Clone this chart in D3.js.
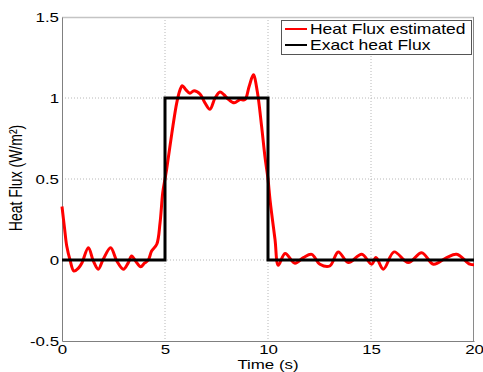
<!DOCTYPE html>
<html>
<head>
<meta charset="utf-8">
<script src="https://cdn.jsdelivr.net/npm/d3@7"></script>
<style>
	body { margin: 0; background: #fff; }
	svg { display: block; font-family: "Liberation Sans", Arial, sans-serif; }
</style>
</head>
<body>
<svg id="chart" width="483" height="372"></svg>
<script>
// estimated heat flux (red)
const estTime = [0, 0.12, 0.23, 0.39, 0.58, 0.8, 0.96, 1.28, 1.52, 1.76, 2.0, 2.36, 2.66, 2.98, 3.22, 3.38, 3.59, 3.82, 4.0, 4.19,
	4.35, 4.6, 4.76, 4.89, 5.0, 5.08, 5.33, 5.57, 5.73, 5.84, 6.02, 6.21, 6.41, 6.7, 6.94, 7.18, 7.43, 7.67, 7.86, 8.06,
	8.36, 8.64, 8.88, 9.08, 9.29, 9.48, 9.69, 9.85, 10.0, 10.1, 10.34, 10.5, 10.83, 11.31, 11.72, 12.12, 12.52, 13.0, 13.41,
	13.9, 14.55, 15.03, 15.24, 15.6, 16.12, 16.81, 17.46, 18.03, 18.67, 19.16, 19.8, 20];
const estFlux = [0.33, 0.2, 0.086, 0.0, -0.068, -0.05, -0.02, 0.076, -0.006, -0.057, 0.004, 0.076, -0.006, -0.057, -0.016, 0.025, -0.01, -0.041, -0.02, 0.0,
	0.055, 0.097, 0.23, 0.415, 0.5, 0.56, 0.78, 0.97, 1.05, 1.076, 1.05, 1.03, 1.045, 1.025, 0.97, 0.93, 1.0, 1.037, 1.02, 0.994,
	0.97, 0.99, 0.99, 1.07, 1.143, 1.04, 0.825, 0.64, 0.5, 0.37, 0.127, -0.033, 0.04, -0.02, 0.015, 0.035, -0.026, -0.037, 0.05,
	-0.016, 0.035, -0.026, 0.015, -0.057, 0.05, -0.016, 0.045, -0.026, 0.015, 0.035, -0.026, -0.03];

// exact heat flux (black step)
const exactTime = [0, 5, 5, 10, 10, 20];
const exactFlux = [0, 0, 1, 1, 0, 0];

const xTicks = [0, 5, 10, 15, 20];
const yTicks = [-0.5, 0, 0.5, 1, 1.5];
const legendLabels = ['Heat Flux estimated', 'Exact heat Flux'];
const seriesColors = ['#ff0000', '#000000'];

const margin = {top: 17, left: 62, bottom: 31, right: 9};
const svgWidth = 483, svgHeight = 372;
const width = svgWidth - margin.left - margin.right,
	height = svgHeight - margin.top - margin.bottom;
const stretch = 1.25;// text in the picture is stretched horizontally

const chart = d3.select('#chart');
const g = chart.append('g')
	.attr('transform', 'translate(' + margin.left + ',' + margin.top + ')');

const xScale = d3.scaleLinear().domain([0, 20]).range([0, width]);
const yScale = d3.scaleLinear().domain([-0.5, 1.5]).range([height, 0]);

// dotted grid
g.append('g').selectAll('line')
	.data(xTicks.slice(1, -1))
	.enter().append('line')
	.attr('x1', d => xScale(d)).attr('x2', d => xScale(d))
	.attr('y1', 0).attr('y2', height)
	.attr('stroke', '#b8b8b8').attr('stroke-dasharray', '1,2');
g.append('g').selectAll('line')
	.data(yTicks.slice(1, -1))
	.enter().append('line')
	.attr('y1', d => yScale(d)).attr('y2', d => yScale(d))
	.attr('x1', 0).attr('x2', width)
	.attr('stroke', '#b8b8b8').attr('stroke-dasharray', '1,2');

// frame top / right
g.append('line').attr('x1', 0).attr('x2', width).attr('y1', 0.5).attr('y2', 0.5)
	.attr('stroke', '#c4c4c4').attr('stroke-width', 1.5);
g.append('line').attr('x1', width - 0.5).attr('x2', width - 0.5).attr('y1', 0).attr('y2', height)
	.attr('stroke', '#8a8a8a');

// axes
const xAxis = d3.axisBottom(xScale).tickValues(xTicks).tickSize(0).tickPadding(4)
	.tickFormat(d3.format('d'));
const yAxis = d3.axisLeft(yScale).tickValues(yTicks).tickSize(0).tickPadding(3)
	.tickFormat(d => d === 0 || d === 1 ? d : d3.format('.1f')(d).replace('\u2212', '-'));

const gx = g.append('g').attr('transform', 'translate(0,' + height + ')').call(xAxis);
const gy = g.append('g').call(yAxis);

[gx, gy].forEach(ax => {
	ax.select('.domain').attr('stroke', '#808080');
	ax.selectAll('text')
		.attr('font-size', 13.5)
		.attr('font-family', '"Liberation Sans", Arial, sans-serif')
		.attr('fill', '#000');
});
gx.selectAll('text').attr('transform', 'scale(' + stretch + ',1)').attr('y', 3.5);
gy.selectAll('text').attr('transform', 'scale(' + stretch + ',1)').attr('x', -3 / stretch);

// series
const estData = estTime.map((t, i) => [t, estFlux[i]]);
const exactData = exactTime.map((t, i) => [t, exactFlux[i]]);

const plot = g.append('g');
plot.append('path')
	.datum(estData)
	.attr('fill', 'none')
	.attr('stroke', seriesColors[0])
	.attr('stroke-width', 3)
	.attr('stroke-linejoin', 'round')
	.attr('d', d3.line().x(d => xScale(d[0])).y(d => yScale(d[1])).curve(d3.curveCatmullRom.alpha(0.5)));

plot.append('path')
	.datum(exactData)
	.attr('fill', 'none')
	.attr('stroke', seriesColors[1])
	.attr('stroke-width', 3)
	.attr('d', d3.line().x(d => xScale(d[0])).y(d => yScale(d[1])));

// axis labels
chart.append('text')
	.attr('transform', 'translate(' + (margin.left + width / 2) + ',368.5) scale(' + stretch + ',1)')
	.attr('text-anchor', 'middle')
	.attr('font-size', 13.5)
	.text('Time (s)');

chart.append('text')
	.attr('transform', 'translate(22,178) scale(' + stretch + ',1) rotate(-90)')
	.attr('text-anchor', 'middle')
	.attr('font-size', 14)
	.text('Heat Flux (W/m\u00b2)');

// legend
const legend = chart.append('g').attr('transform', 'translate(281,20)');
legend.append('rect')
	.attr('x', 0.5).attr('y', 0.5)
	.attr('width', 190).attr('height', 34)
	.attr('fill', '#fff').attr('stroke', '#555');

const legendItem = legend.selectAll('.legend-item')
	.data(legendLabels)
	.enter().append('g')
	.attr('class', 'legend-item')
	.attr('transform', (d, i) => 'translate(0,' + (9 + i * 16) + ')');
legendItem.append('line')
	.attr('x1', 4).attr('x2', 26)
	.attr('stroke', (d, i) => seriesColors[i])
	.attr('stroke-width', 2);
legendItem.append('text')
	.attr('transform', 'translate(29,5) scale(' + stretch + ',1)')
	.attr('font-size', 14)
	.text(d => d);
</script>
</body>
</html>
